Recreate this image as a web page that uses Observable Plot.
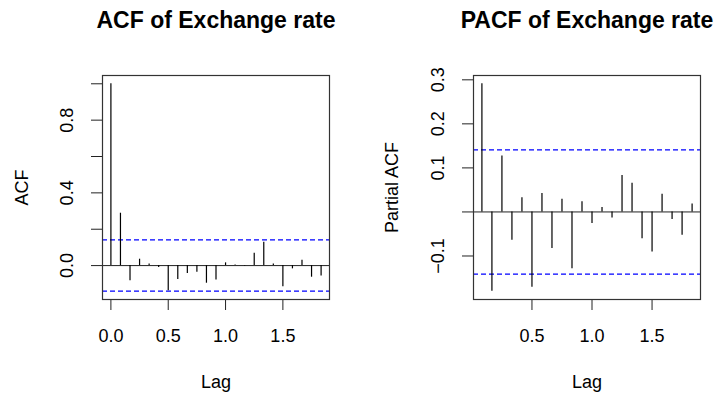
<!DOCTYPE html>
<html>
<head>
<meta charset="utf-8">
<script src="https://cdn.jsdelivr.net/npm/d3@7"></script>
<script src="https://cdn.jsdelivr.net/npm/@observablehq/plot@0.6"></script>
<style>
  html, body { margin: 0; padding: 0; background: #fff; }
  #wrap { display: flex; width: 718px; height: 399px; }
  #wrap > div { width: 359px; height: 399px; }
  svg { overflow: visible; }
</style>
</head>
<body>
<div id="wrap"><div id="p1"></div><div id="p2"></div></div>
<script>
// ---- data ----
const seriesName = "Exchange rate";
const lagFrequency = 12; // monthly series: lag axis in years
const acfLagMonths = [0,1,2,3,4,5,6,7,8,9,10,11,12,13,14,15,16,17,18,19,20,21,22];
const acfValues = [1.000, 0.288, -0.084, 0.035, 0.009, -0.011, -0.138, -0.077, -0.044, -0.037, -0.097, -0.079, 0.015, 0.003, -0.002, 0.068, 0.128, 0.009, -0.117, -0.018, 0.029, -0.064, -0.057];
const pacfLagMonths = [1,2,3,4,5,6,7,8,9,10,11,12,13,14,15,16,17,18,19,20,21,22];
const pacfValues = [0.291, -0.180, 0.127, -0.064, 0.032, -0.171, 0.042, -0.083, 0.029, -0.129, 0.023, -0.026, 0.010, -0.014, 0.083, 0.065, -0.061, -0.091, 0.040, -0.017, -0.053, 0.018];
const confLimit = 0.141;
const xTicksAcf = [0, 0.5, 1, 1.5];
const xTicksPacf = [0.5, 1, 1.5];
const yTicksAcf = [0, 0.2, 0.4, 0.6, 0.8, 1.0];
const yLabelsAcf = [0, 0.4, 0.8];
const yTicksPacf = [-0.1, 0, 0.1, 0.2, 0.3];
const yLabelsPacf = [-0.1, 0.1, 0.2, 0.3];

const acfTable = acfLagMonths.map((m, i) => ({lag: m / lagFrequency, value: acfValues[i]}));
const pacfTable = pacfLagMonths.map((m, i) => ({lag: m / lagFrequency, value: pacfValues[i]}));

const FONT = "'Liberation Sans', Arial, Helvetica, sans-serif";
const fmt = d3.format(".1f");

function panel({table, title, ylab, xDomain, yDomain, xTicks, yTicks, yLabels, marginLeft, marginRight}) {
  return Plot.plot({
    width: 359, height: 399,
    marginTop: 75, marginBottom: 100, marginLeft, marginRight,
    style: {fontFamily: FONT, fontSize: "18px", color: "#000", background: "transparent"},
    x: {domain: xDomain, axis: null},
    y: {domain: yDomain, axis: null},
    marks: [
      // ticks
      Plot.axisX({ticks: xTicks, tickSize: 11, tickFormat: () => "", label: null, stroke: "#222", strokeWidth: 1}),
      Plot.axisY({ticks: yTicks, tickSize: 11, tickFormat: () => "", label: null, stroke: "#222", strokeWidth: 1}),
      // tick labels
      Plot.text(xTicks, {x: d => d, frameAnchor: "bottom", dy: 36.5, lineAnchor: "middle", text: d => fmt(d), fontSize: 18, fill: "#000"}),
      Plot.text(yLabels, {y: d => d, frameAnchor: "left", dx: -35, rotate: -90, lineAnchor: "middle", textAnchor: "middle", text: d => fmt(d), fontSize: 18, fill: "#000"}),
      // axis titles
      Plot.text([ylab], {frameAnchor: "left", dx: ylab === "ACF" ? -80 : -81, rotate: -90, lineAnchor: "middle", textAnchor: "middle", text: d => d, fontSize: 18, fill: "#000"}),
      Plot.text(["Lag"], {frameAnchor: "bottom", dy: 83, lineAnchor: "middle", text: d => d, fontSize: 18, fill: "#000"}),
      // title
      Plot.text([title], {frameAnchor: "top", dy: -55, lineAnchor: "middle", text: d => d, fontSize: 23, fontWeight: "bold", fill: "#000"}),
      // confidence bands
      Plot.ruleY([confLimit, -confLimit], {stroke: "#0000ff", strokeWidth: 1.2, strokeDasharray: "5,3"}),
      // zero line
      Plot.ruleY([0], {stroke: "#222", strokeWidth: 1}),
      // spikes
      Plot.ruleX(table, {x: "lag", y1: 0, y2: "value", stroke: "#000", strokeWidth: 1.2}),
      Plot.frame({stroke: "#333", strokeWidth: 1.2})
    ]
  });
}

document.getElementById("p1").appendChild(panel({
  table: acfTable, title: "ACF of " + seriesName, ylab: "ACF",
  xDomain: [-0.0733, 1.9066], yDomain: [-0.1866, 1.0456],
  xTicks: xTicksAcf, yTicks: yTicksAcf, yLabels: yLabelsAcf,
  marginLeft: 102, marginRight: 30
}));
document.getElementById("p2").appendChild(panel({
  table: pacfTable, title: "PACF of " + seriesName, ylab: "Partial ACF",
  xDomain: [0.0133, 1.9033], yDomain: [-0.1988, 0.3098],
  xTicks: xTicksPacf, yTicks: yTicksPacf, yLabels: yLabelsPacf,
  marginLeft: 114, marginRight: 18
}));
</script>
</body>
</html>
